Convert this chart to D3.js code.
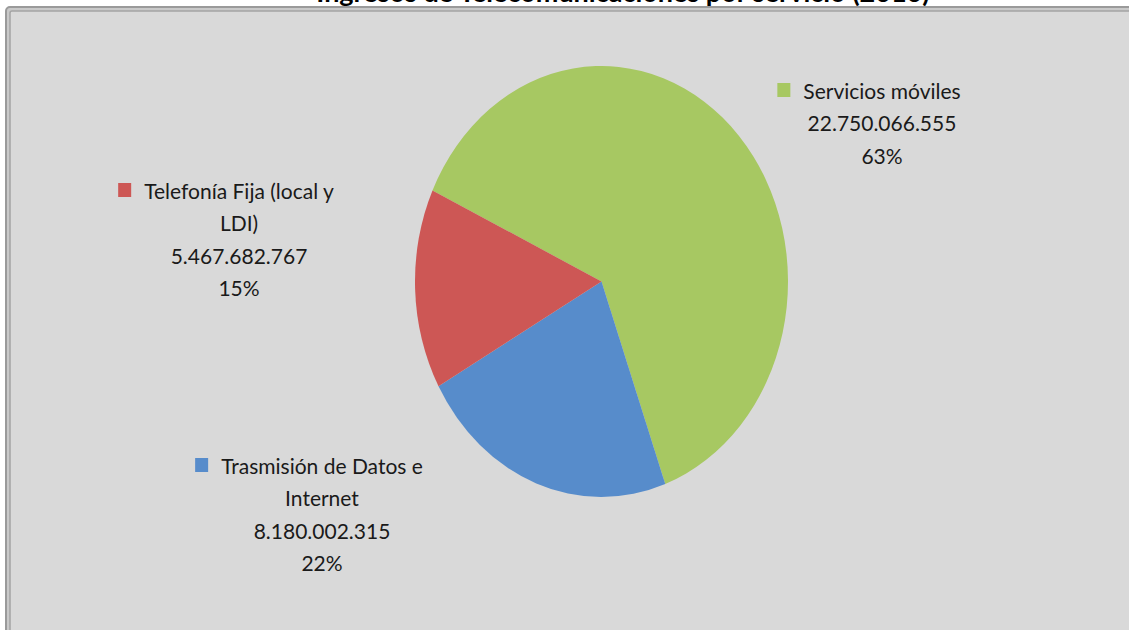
<!DOCTYPE html>
<html>
<head>
<meta charset="utf-8">
<script src="https://cdn.jsdelivr.net/npm/d3@7"></script>
<style>
  html, body { margin: 0; background: #ffffff; overflow: hidden; }
  svg { display: block; }
  .label { font-family: Lato, "Noto Sans", sans-serif; font-size: 21px; fill: #1a1a1a; }
  .title { font-family: Lato, "Noto Sans", sans-serif; font-size: 27px; font-weight: bold; fill: #000; }
</style>
</head>
<body>
<svg id="chart" width="1129" height="630"></svg>
<script>

// data, in clockwise drawing order
const categories = ["Servicios móviles", "Trasmisión de Datos e Internet", "Telefonía Fija (local y LDI)"];
const values = [22750066555, 8180002315, 5467682767];
const value_labels = ["22.750.066.555", "8.180.002.315", "5.467.682.767"];
const pct_labels = ["63%", "22%", "15%"];
const colors = ["#a7c862", "#578ccb", "#cd5755"];
// how the category names wrap inside the labels
const name_lines = [["Servicios móviles"], ["Trasmisión de Datos e", "Internet"], ["Telefonía Fija (local y", "LDI)"]];

const title = "Ingresos de Telecomunicaciones por servicio (2010)";

var width = 1129, height = 630;
var svg = d3.select("#chart");

// chart area frame, runs past the right and bottom edges
svg.append("rect")
   .attr("x", 6).attr("y", 7)
   .attr("width", width * 2).attr("height", height * 2)
   .attr("rx", 4)
   .attr("fill", "#c9c9c9")
   .attr("stroke", "#9a9a9a")
   .attr("stroke-width", 2);

svg.append("rect")
   .attr("x", 10).attr("y", 11)
   .attr("width", width * 2).attr("height", height * 2)
   .attr("rx", 2)
   .attr("fill", "#d9d9d9")
   .attr("stroke", "#a4a4a4")
   .attr("stroke-width", 1.5);

// title (cut off at the top)
svg.append("text")
   .attr("class", "title")
   .attr("x", 623)
   .attr("y", 2)
   .attr("text-anchor", "middle")
   .text(title);

// pie, drawn as a circle then stretched vertically
var cx = 601.5, cy = 281.5, rx = 186.5, ry = 215.5;

var pie = d3.pie()
            .sort(null)
            .startAngle(-65 * Math.PI / 180)
            .endAngle(295 * Math.PI / 180);

var arc = d3.arc().innerRadius(0).outerRadius(rx);

svg.append("g")
   .attr("transform", "translate(" + cx + "," + cy + ") scale(1," + (ry / rx) + ")")
   .selectAll("path")
   .data(pie(values))
   .enter()
   .append("path")
   .attr("d", arc)
   .attr("fill", (d, i) => colors[i]);

// data labels: center x of text and y of first line
const label_pos = [[882, 90], [322, 465], [239, 190]];
var line_h = 32.5;

categories.forEach(function(c, i) {

    var lines = name_lines[i].concat([value_labels[i], pct_labels[i]]);
    var g = svg.append("g").attr("class", "data-label");

    var texts = g.selectAll("text")
                 .data(lines)
                 .enter()
                 .append("text")
                 .attr("class", "label")
                 .attr("text-anchor", "middle")
                 .attr("dominant-baseline", "central")
                 .attr("x", label_pos[i][0])
                 .attr("y", (d, j) => label_pos[i][1] + j * line_h)
                 .text(d => d);

    // legend key in front of the first line
    var w = texts.node().getComputedTextLength();
    g.append("rect")
     .attr("x", label_pos[i][0] - w / 2 - 26)
     .attr("y", label_pos[i][1] - 7)
     .attr("width", 13)
     .attr("height", 14)
     .attr("fill", colors[i]);
});

</script>
</body>
</html>
